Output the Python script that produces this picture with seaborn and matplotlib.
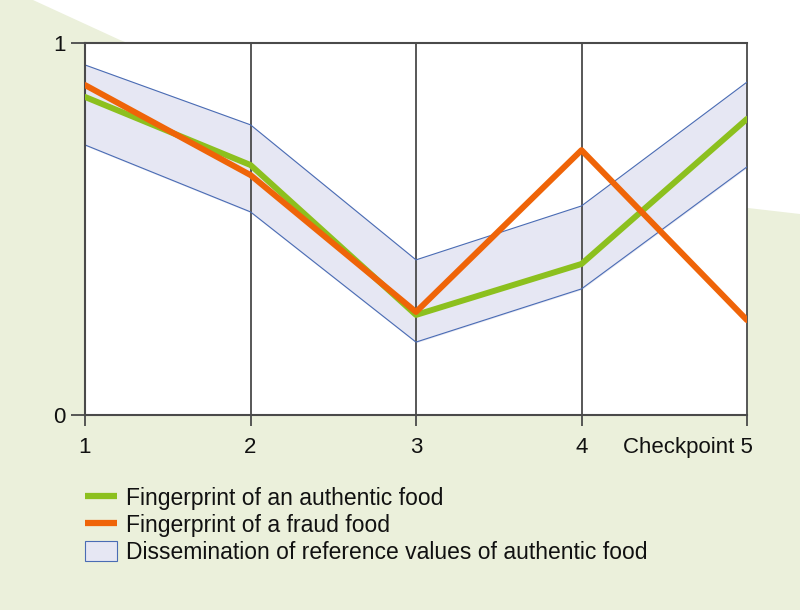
import pandas as pd
import numpy as np
import matplotlib.pyplot as plt
import matplotlib.transforms as mtransforms
from matplotlib.lines import Line2D
from matplotlib.patches import Patch, Polygon
import seaborn as sns

sns.set_style('white')
plt.rcParams['font.family'] = ['Liberation Sans', 'DejaVu Sans']
plt.rcParams['text.color'] = '#111111'
plt.rcParams['xtick.color'] = '#111111'
plt.rcParams['ytick.color'] = '#111111'

# data
checkpoints = [1, 2, 3, 4, 5]
authentic = [0.855, 0.672, 0.269, 0.406, 0.796]
fraud = [0.887, 0.645, 0.277, 0.712, 0.255]
band_upper = [0.941, 0.780, 0.417, 0.562, 0.895]
band_lower = [0.726, 0.546, 0.196, 0.339, 0.667]
xtick_labels = ['1', '2', '3', '4', 'Checkpoint 5']
legend_labels = ['Fingerprint of an authentic food',
                 'Fingerprint of a fraud food',
                 'Dissemination of reference values of authentic food']

green = '#8cc01e'
orange = '#ef6408'
band_fill = '#e6e7f3'
band_edge = '#4a6cb4'
grid_col = '#4a4a4a'
bg = '#ebf0db'

df = pd.DataFrame({'checkpoint': checkpoints * 2,
                   'value': authentic + fraud,
                   'kind': ['authentic'] * 5 + ['fraud'] * 5})

fig = plt.figure(figsize=(8, 6.1), dpi=100, facecolor=bg)

# white decorative shape behind the chart (figure pixel coords, y from top)
shape = [(33, 0), (120, 40), (400, 150), (748, 208), (800, 214), (800, 0)]
fig.patches.append(Polygon([(x / 800, 1 - y / 610) for x, y in shape], closed=True,
                           transform=fig.transFigure, facecolor='white', edgecolor='none', zorder=-5))

ax = fig.add_axes([85 / 800, 195 / 610, 662 / 800, 372 / 610])
ax.set_facecolor('white')

# band of reference values
ax.fill_between(checkpoints, band_lower, band_upper, color=band_fill, zorder=1)
ax.plot(checkpoints, band_upper, color=band_edge, lw=0.8, zorder=2)
ax.plot(checkpoints, band_lower, color=band_edge, lw=0.8, zorder=2)

# vertical grid lines
for x in checkpoints[1:]:
    ax.axvline(x, color=grid_col, lw=1.3, zorder=1.5, clip_on=False)

sns.lineplot(data=df, x='checkpoint', y='value', hue='kind', palette=[green, orange],
             lw=4.3, ax=ax, legend=False, zorder=3, solid_capstyle='round')

ax.set_xlim(1, 5)
ax.set_ylim(0, 1)
ax.set_xlabel('')
ax.set_ylabel('')
ax.set_xticks(checkpoints)
ax.set_xticklabels(xtick_labels, fontsize=16)
ax.set_yticks([0, 1])
ax.set_yticklabels(['0', '1'], fontsize=16)
ax.tick_params(axis='x', bottom=True, direction='out', length=8, width=1.3, color=grid_col, pad=8)
ax.tick_params(axis='y', left=True, direction='out', length=10, width=1.3, color=grid_col, pad=4)
for s in ['left', 'bottom', 'top']:
    ax.spines[s].set_color(grid_col)
    ax.spines[s].set_linewidth(1.5)
ax.spines['right'].set_visible(False)

# keep the "5" of the last label centred under its tick
last = ax.get_xticklabels()[-1]
last.set_horizontalalignment('right')
last.set_transform(last.get_transform() + mtransforms.ScaledTranslation(6 / 100, 0, fig.dpi_scale_trans))

handles = [Line2D([], [], color=green, lw=4.5, solid_capstyle='butt'),
           Line2D([], [], color=orange, lw=4.5, solid_capstyle='butt'),
           Patch(facecolor=band_fill, edgecolor=band_edge, lw=0.8)]
fig.legend(handles, legend_labels, loc='upper left', bbox_to_anchor=(85 / 800, 1 - 487 / 610),
           frameon=False, fontsize=16.5, handlelength=1.4, handleheight=1.0, handletextpad=0.4,
           labelspacing=0.16, borderpad=0, borderaxespad=0)

fig.savefig('out.png', dpi=100, facecolor=bg)
